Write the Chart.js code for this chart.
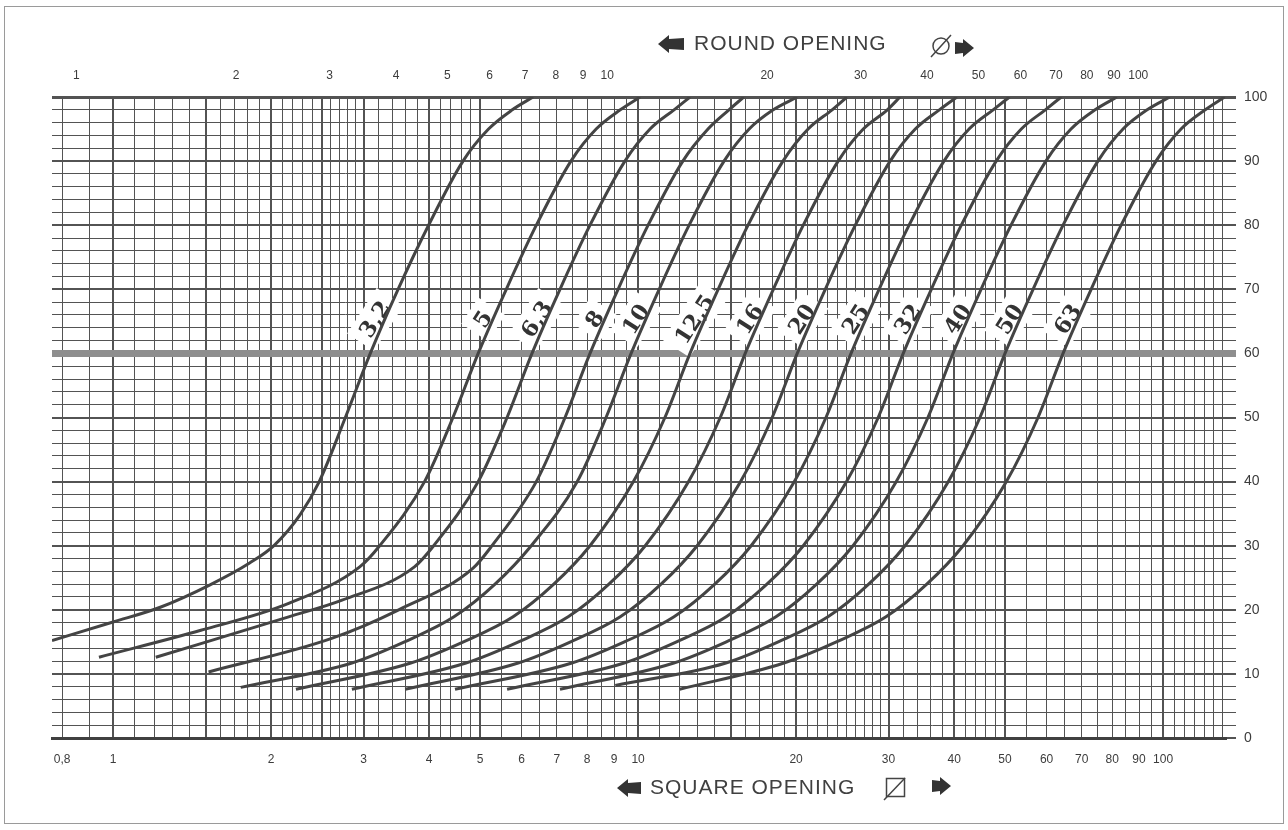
<!DOCTYPE html>
<html>
<head>
<meta charset="utf-8">
<title>Grading curves</title>
<script src="https://cdn.jsdelivr.net/npm/chart.js@4.4.1/dist/chart.umd.min.js"></script>
<style>
  html, body { margin: 0; padding: 0; background: #fff; }
  #wrap { width: 1288px; height: 830px; position: relative; }
</style>
</head>
<body>
<div id="wrap"><canvas id="chart_grading"></canvas></div>
<script>
// square opening (mm) -> % passing, one list per curve
var curve_3_2 = [[0.765,15.2],[1.0,18.1],[1.23,20.4],[1.53,23.9],[1.82,27.3],[2.03,30.1],[2.27,34.8],[2.47,40],[2.77,50],[3.09,60],[3.49,70],[3.99,80],[4.64,90],[5.19,95],[5.76,98],[6.31,100]];
var curve_5 = [[0.94,12.6],[1.47,16.8],[2.16,21.0],[2.95,26.7],[3.22,30],[3.92,40],[4.44,50],[4.96,60],[5.61,70],[6.40,80],[7.45,90],[8.32,95],[9.25,98],[10.09,100]];
var curve_6_3 = [[1.206,12.6],[2.16,18.9],[2.73,21.5],[3.75,26.7],[4.08,30],[4.96,40],[5.63,50],[6.28,60],[7.10,70],[8.10,80],[9.44,90],[10.54,95],[11.71,98],[12.56,100]];
var curve_8 = [[1.52,10.3],[2.6,15.5],[3.5,20],[4.85,26.5],[5.27,30],[6.40,40],[7.26,50],[8.1,60],[9.16,70],[10.45,80],[12.17,90],[13.59,95],[14.9,98],[15.9,100]];
var curve_10 = [[1.75,7.9],[2.85,11.7],[3.59,15],[4.46,18.9],[5.34,24],[6.26,30],[7.66,40],[8.69,50],[9.7,60],[10.97,70],[12.51,80],[14.58,90],[16.28,95],[18.09,98],[20.1,100]];
var curve_12_5 = [[2.23,7.6],[3.69,11.7],[4.65,15],[5.78,18.9],[6.91,24],[8.10,30],[9.80,40],[11.25,50],[12.56,60],[14.21,70],[16.2,80],[18.88,90],[21.08,95],[23.42,98],[25.0,100]];
var curve_16 = [[2.85,7.6],[4.70,11.7],[5.92,15],[7.36,18.9],[8.8,24],[10.32,30],[12.48,40],[14.34,50],[16.0,60],[18.1,70],[20.64,80],[24.05,90],[26.85,95],[29.84,98],[31.55,100]];
var curve_20 = [[3.6,7.6],[5.91,11.7],[7.44,15],[9.25,18.9],[11.06,24],[12.96,30],[15.68,40],[18.01,50],[20.1,60],[22.73,70],[25.93,80],[30.21,90],[33.73,95],[37.49,98],[40.5,100]];
var curve_25 = [[4.48,7.6],[7.48,11.7],[9.42,15],[11.71,18.9],[14.0,24],[16.42,30],[19.85,40],[22.8,50],[25.45,60],[28.78,70],[32.83,80],[38.25,90],[42.71,95],[47.46,98],[51,100]];
var curve_32 = [[5.63,7.6],[9.41,11.7],[11.84,15],[14.72,18.9],[17.6,24],[20.64,30],[24.96,40],[28.67,50],[32,60],[36.19,70],[41.28,80],[48.1,90],[53.7,95],[59.68,98],[64,100]];
var curve_40 = [[7.1,7.6],[11.7,11.7],[14.73,15],[18.31,18.9],[21.89,24],[25.67,30],[31.04,40],[35.66,50],[39.8,60],[45.01,70],[51.34,80],[59.82,90],[66.78,95],[74.23,98],[81.7,100]];
var curve_50 = [[9.05,8.2],[14.7,11.7],[18.5,15],[23.0,18.9],[27.5,24],[32.25,30],[39.0,40],[44.8,50],[50,60],[56.55,70],[64.5,80],[75.15,90],[83.9,95],[93.25,98],[103,100]];
var curve_63 = [[12.0,7.6],[18.96,11.7],[23.87,15],[29.67,18.9],[35.48,24],[41.6,30],[50.31,40],[57.79,50],[64.5,60],[72.95,70],[83.21,80],[96.94,90],[108.2,95],[120.3,98],[131,100]];

var curveNames = ['3,2', '5', '6,3', '8', '10', '12,5', '16', '20', '25', '32', '40', '50', '63'];
var curveData = [curve_3_2, curve_5, curve_6_3, curve_8, curve_10, curve_12_5, curve_16, curve_20, curve_25, curve_32, curve_40, curve_50, curve_63];

var squareTickValues = [0.8, 1, 2, 3, 4, 5, 6, 7, 8, 9, 10, 20, 30, 40, 50, 60, 70, 80, 90, 100];
var squareTickText = ['0,8', '1', '2', '3', '4', '5', '6', '7', '8', '9', '10', '20', '30', '40', '50', '60', '70', '80', '90', '100'];
var roundTickValues = [1, 2, 3, 4, 5, 6, 7, 8, 9, 10, 20, 30, 40, 50, 60, 70, 80, 90, 100];
var percentTickValues = [0, 10, 20, 30, 40, 50, 60, 70, 80, 90, 100];

var topTitle = 'ROUND OPENING';
var bottomTitle = 'SQUARE OPENING';

// log-paper grid: [from, to, step] in square-opening mm
var gridRanges = [[0.8, 2, 0.1], [2, 3, 0.1], [3, 5, 0.2], [5, 10, 0.5], [10, 30, 1], [30, 50, 2], [50, 130, 5]];
var boldGrid = [1, 1.5, 2, 2.5, 3, 4, 5, 10, 15, 20, 30, 40, 50, 100];

var INK = '#444';
var GRID = '#535353';
var FONT = '"Liberation Sans", Arial, sans-serif';

function near(a, b) { return Math.abs(a - b) < 1e-6; }
function inList(list, v) { return list.some(function (x) { return near(x, v); }); }

var gridValues = [];
gridRanges.forEach(function (r) {
  for (var v = r[0]; v < r[1] - 1e-9; v += r[2]) gridValues.push(Math.round(v * 100) / 100);
});
gridValues.push(130);

var datasets = curveData.map(function (d, i) {
  return {
    label: curveNames[i],
    data: d,
    xAxisID: 'x',
    yAxisID: 'y',
    borderColor: INK,
    borderWidth: 3,
    pointRadius: 0,
    fill: false,
    cubicInterpolationMode: 'monotone'
  };
});

function drawArrow(ctx, tipX, cy, dir, len) {
  // solid block arrow
  var head = 11, hh = 9, bh = 5;
  ctx.beginPath();
  ctx.moveTo(tipX, cy);
  ctx.lineTo(tipX - dir * head, cy - hh);
  ctx.lineTo(tipX - dir * head, cy - bh);
  ctx.lineTo(tipX - dir * len, cy - bh - 1);
  ctx.lineTo(tipX - dir * len, cy + bh + 1);
  ctx.lineTo(tipX - dir * head, cy + bh);
  ctx.lineTo(tipX - dir * head, cy + hh);
  ctx.closePath();
  ctx.fill();
}

var curveLabels = {
  id: 'curveLabels',
  beforeDatasetsDraw: function (chart) {
    var ctx = chart.ctx, xs = chart.scales.x, ys = chart.scales.y;
    ctx.save();
    chart.data.datasets.forEach(function (ds) {
      var p = ds.data.find(function (d) { return d[1] === 60; });
      var px = xs.getPixelForValue(p[0]) + 5;
      var py = ys.getPixelForValue(65.3);
      ctx.save();
      ctx.translate(px, py);
      ctx.rotate(-57 * Math.PI / 180);
      ctx.font = 'bold 22px "DejaVu Serif", serif';
      var w = ctx.measureText(ds.label).width;
      ctx.fillStyle = '#fff';
      ctx.fillRect(-w / 2 - 8, -16, w + 16, 32);
      ctx.fillStyle = '#333';
      ctx.textAlign = 'center';
      ctx.textBaseline = 'middle';
      ctx.fillText(ds.label, 0, 1);
      ctx.restore();
    });
    ctx.restore();
  }
};

var decor = {
  id: 'decor',
  beforeDraw: function (chart) {
    var ctx = chart.ctx;
    ctx.save();
    ctx.fillStyle = '#fff';
    ctx.fillRect(0, 0, chart.width, chart.height);
    ctx.restore();
  },
  afterDraw: function (chart) {
    var ctx = chart.ctx;
    ctx.save();
    ctx.strokeStyle = '#9a9a9a';
    ctx.lineWidth = 1;
    ctx.strokeRect(4.5, 6.5, 1279, 817);

    ctx.fillStyle = '#404040';
    ctx.font = '21px ' + FONT;
    ctx.letterSpacing = '1px';
    ctx.textBaseline = 'middle';
    ctx.textAlign = 'left';
    ctx.fillText(topTitle, 694, 44);
    ctx.fillText(bottomTitle, 650, 788);
    ctx.letterSpacing = '0px';

    ctx.fillStyle = '#333';
    drawArrow(ctx, 658, 44, -1, 26);
    drawArrow(ctx, 974, 48, 1, 19);
    drawArrow(ctx, 617, 788, -1, 24);
    drawArrow(ctx, 951, 786, 1, 19);

    // round opening symbol
    ctx.strokeStyle = '#444';
    ctx.lineWidth = 1.5;
    ctx.beginPath();
    ctx.arc(941, 46, 8, 0, Math.PI * 2);
    ctx.moveTo(931, 57);
    ctx.lineTo(951, 35);
    ctx.stroke();
    // square opening symbol
    ctx.strokeRect(886.5, 778.5, 18, 18);
    ctx.beginPath();
    ctx.moveTo(884, 800);
    ctx.lineTo(905, 778);
    ctx.stroke();
    ctx.restore();
  }
};

var chart_grading = new Chart(document.getElementById('chart_grading'), {
  type: 'line',
  data: { datasets: datasets },
  options: {
    animation: false,
    responsive: true,
    maintainAspectRatio: false,
    layout: { padding: { left: 52, right: 0, top: 0, bottom: 0 } },
    plugins: {
      legend: { display: false },
      tooltip: { enabled: false },
      title: { display: false }
    },
    scales: {
      x: {
        type: 'logarithmic',
        position: 'bottom',
        min: 0.765,
        max: 131.8,
        afterBuildTicks: function (scale) {
          scale.ticks = gridValues.map(function (v) { return { value: v }; });
        },
        afterFit: function (scale) { scale.height = 92; },
        grid: {
          drawTicks: false,
          color: GRID,
          lineWidth: function (c) { return c.tick && inList(boldGrid, c.tick.value) ? 2 : 1; }
        },
        border: { display: true, color: '#404040', width: 3 },
        ticks: {
          autoSkip: false,
          maxRotation: 0,
          padding: 14,
          color: '#3c3c3c',
          font: { family: FONT, size: 12 },
          callback: function (value) {
            for (var i = 0; i < squareTickValues.length; i++) {
              if (near(squareTickValues[i], value)) return squareTickText[i];
            }
            return '';
          }
        }
      },
      x2: {
        type: 'logarithmic',
        position: 'top',
        min: 0.9,
        max: 146.3,
        afterBuildTicks: function (scale) {
          scale.ticks = roundTickValues.map(function (v) { return { value: v }; });
        },
        afterFit: function (scale) { scale.height = 97; },
        grid: { display: false, drawTicks: false },
        border: { display: false },
        ticks: {
          autoSkip: false,
          maxRotation: 0,
          padding: 14,
          color: '#3c3c3c',
          font: { family: FONT, size: 12 },
          callback: function (value) { return String(value); }
        }
      },
      y: {
        type: 'linear',
        position: 'right',
        min: 0,
        max: 100,
        afterBuildTicks: function (scale) {
          var t = [];
          for (var v = 0; v <= 100; v += 2) t.push({ value: v });
          scale.ticks = t;
        },
        afterFit: function (scale) { scale.width = 62; },
        grid: {
          tickLength: 10,
          color: function (c) { return c.tick && c.tick.value === 60 ? '#8e8e8e' : GRID; },
          lineWidth: function (c) {
            if (!c.tick) return 1;
            if (c.tick.value === 60) return 7;
            if (c.tick.value === 100) return 3;
            return c.tick.value % 10 === 0 ? 2 : 1;
          }
        },
        border: { display: false },
        ticks: {
          autoSkip: false,
          padding: 8,
          color: '#3c3c3c',
          font: { family: FONT, size: 14 },
          callback: function (value) { return inList(percentTickValues, value) ? String(value) : ''; }
        }
      }
    }
  },
  plugins: [decor, curveLabels]
});
</script>
</body>
</html>
